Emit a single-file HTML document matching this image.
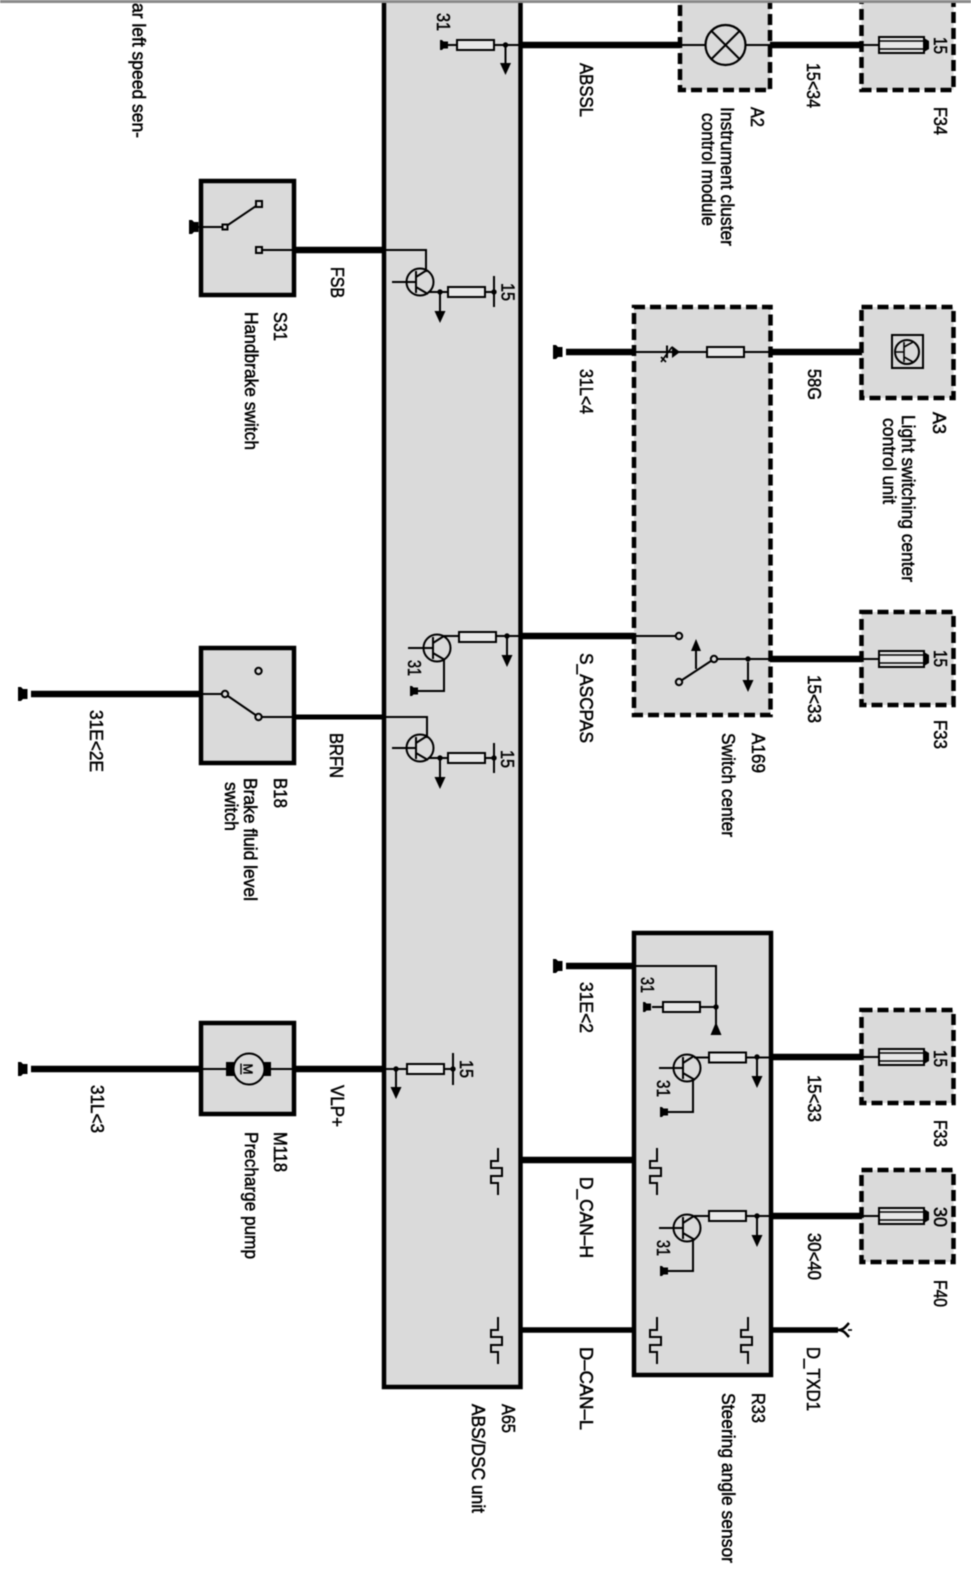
<!DOCTYPE html>
<html><head><meta charset="utf-8"><style>
html,body{margin:0;padding:0;background:#fff;width:971px;height:1573px;overflow:hidden}
svg{display:block;filter:blur(.5px)}
text{font-family:"Liberation Sans",sans-serif;font-size:18px;fill:#000;stroke:#000;stroke-width:.5px}
.box{fill:#dadada;stroke:#000;stroke-width:4.5}
.dash{fill:#dadada;stroke:#000;stroke-width:4.5;stroke-dasharray:11 5}
.w{stroke:#000;stroke-width:2;fill:none}
.t{stroke:#000;stroke-width:6.5;fill:none}
.r{fill:#e8e8e8;stroke:#000;stroke-width:2}
.c{fill:#dadada;stroke:#000;stroke-width:2}
</style></head><body>
<svg xmlns="http://www.w3.org/2000/svg" width="971" height="1573" viewBox="0 0 971 1573">
<defs>
<g id="arr"><path d="M0,0V20" stroke="#000" stroke-width="2"/><path d="M-5.500,18H5.500L0,30Z" fill="#000"/></g>
<g id="gnd"><path d="M0,-7H3L5,-5H9.500V5H5L3,7H0Z" fill="#000"/></g>
<g id="gs"><path d="M0,-5H2L3.500,-3.500H8V3.500H3.500L2,5H0Z" fill="#000"/></g>
<g id="tr"><circle r="13.5" fill="none" stroke="#000" stroke-width="2"/><path d="M-4,-11V11M-4,-5L7,-12M-4,5L8,12" stroke="#000" stroke-width="2" fill="none"/></g>
<path id="pulse" d="M0,0V13H-7V20H4V28H-7V35H0V47" fill="none" stroke="#000" stroke-width="2"/>
<g id="fuse"><path d="M-18,0H0M45,0H50" stroke="#000" stroke-width="2"/><rect x="0" y="-8" width="45" height="16" fill="#e8e8e8" stroke="#000" stroke-width="2"/><path d="M0,-4H45M0,4H45" stroke="#000" stroke-width="1.4"/><path d="M45,-7L50,-4V4L45,7Z" fill="#000"/></g>
<g id="res"><rect x="0" y="-5" width="37" height="10" class="r"/></g>
<circle id="dot" r="2.7" fill="#000"/>
</defs>

<!-- main boxes -->
<rect x="384" y="-10" width="136.5" height="1397" class="box"/>
<rect x="634" y="933" width="137" height="442" class="box"/>
<rect x="201" y="181" width="93" height="114" class="box"/>
<rect x="201" y="648" width="93" height="115" class="box"/>
<rect x="201" y="1023" width="93" height="91" class="box"/>
<rect x="680" y="-8" width="90" height="98" class="dash"/>
<rect x="861.500" y="-8" width="92" height="98" class="dash"/>
<rect x="634" y="307" width="136.500" height="408" class="dash"/>
<rect x="861.500" y="307" width="92" height="91" class="dash"/>
<rect x="861.500" y="612" width="92" height="93" class="dash"/>
<rect x="861.500" y="1010" width="92" height="93" class="dash"/>
<rect x="861.500" y="1170" width="92" height="92" class="dash"/>

<!-- thick wires -->
<path class="t" d="M520,45H680M770,45H862"/>
<path class="t" d="M294,250H384"/>
<path class="t" d="M566,352H634M770,352H862"/>
<path class="t" d="M520,636H634M770,659H862"/>
<path class="t" d="M31,694H201"/>
<path class="t" d="M294,717H384" style="stroke-width:5"/>
<path class="t" d="M566,966H634"/>
<path class="t" d="M771,1057H862M771,1216H862"/>
<path class="t" d="M31,1069H201M294,1069H384"/>
<path class="t" d="M521,1160H634"/>
<path class="t" d="M521,1330H634M771,1330H838" style="stroke-width:5.500"/>

<!-- top ABSSL -->
<use href="#gs" x="440" y="45"/>
<path class="w" d="M447,45H457M494,45H520"/>
<use href="#res" x="457" y="45"/>
<use href="#dot" x="505.500" y="45"/>
<use href="#arr" x="505.500" y="45"/>
<path class="w" d="M680,45H705M746,45H770"/>
<circle cx="725.500" cy="45" r="20" fill="#dadada" stroke="#000" stroke-width="2.200"/>
<path d="M711.500,31L739.500,59M739.500,31L711.500,59" stroke="#000" stroke-width="2"/>
<use href="#fuse" x="879" y="45"/>

<!-- S31 handbrake -->
<use href="#gnd" x="189" y="227"/>
<path class="w" d="M197,227H225L259,204M259,250H294"/>
<rect x="222.500" y="224.500" width="5" height="5" class="c"/>
<rect x="256" y="201" width="6" height="6" class="c"/>
<rect x="256" y="247" width="6" height="6" class="c"/>
<path class="w" d="M384,250H426V272"/>
<use href="#tr" x="420" y="282"/>
<path class="w" d="M392,282H416M428,292H484M494,276V307M484,292H494"/>
<use href="#res" x="448" y="292"/>
<use href="#dot" x="440" y="292"/>
<use href="#dot" x="494" y="292"/>
<use href="#arr" x="440" y="293"/>

<!-- A169 A3 wire -->
<use href="#gnd" x="553" y="352"/>
<path class="w" d="M634,352H708M744,352H770"/>
<use href="#res" x="707" y="352"/>
<path d="M672,346V358L680,352Z M666,345.500H668V358H666Z" fill="#000"/>
<path d="M661,362L672,347M661,357L666,362" stroke="#000" stroke-width="1.600" fill="none"/>
<rect x="892" y="335" width="31" height="33" fill="#dadada" stroke="#000" stroke-width="2"/>
<circle cx="907" cy="352" r="12" fill="none" stroke="#000" stroke-width="2"/>
<path d="M904,342V362M895,352H904M904,347L913,342M904,357L913,362" stroke="#000" stroke-width="1.600" fill="none"/>

<!-- S_ASCPAS -->
<use href="#tr" x="437" y="648"/>
<path class="w" d="M408,648H433M443,636H459M497,636H521M444,659V691H412"/>
<use href="#res" x="459" y="637"/>
<use href="#dot" x="507" y="636"/>
<use href="#arr" x="507" y="637"/>
<use href="#gs" x="410" y="691"/>
<path class="w" d="M634,636H676"/>
<circle cx="679" cy="636" r="3.200" class="c"/>
<path class="w" d="M679,682L714,659H771"/>
<circle cx="679" cy="682" r="3.200" class="c"/>
<circle cx="714" cy="659" r="3.200" class="c"/>
<use href="#dot" x="748" y="659"/>
<use href="#arr" x="748" y="662"/>
<path d="M696,669V648" stroke="#000" stroke-width="2"/>
<path d="M691,651H701L696,639Z" fill="#000"/>
<use href="#fuse" x="879" y="659"/>

<!-- B18 -->
<use href="#gnd" x="18" y="694"/>
<path class="w" d="M201,694H225L258.500,717H294"/>
<circle cx="225" cy="694" r="3.200" class="c"/>
<circle cx="258.500" cy="717" r="3.200" class="c"/>
<circle cx="258.500" cy="671" r="3.200" class="c"/>
<path class="w" d="M384,717H427V738"/>
<use href="#tr" x="420" y="748"/>
<path class="w" d="M392,748H416M428,758H484M484,758H494M494,743V773"/>
<use href="#res" x="448" y="758"/>
<use href="#dot" x="440" y="758"/>
<use href="#dot" x="494" y="758"/>
<use href="#arr" x="440" y="759"/>

<!-- R33 -->
<use href="#gnd" x="553" y="966"/>
<path class="w" d="M634,966H716V1026M652,1007H663M699,1007H716"/>
<use href="#res" x="663" y="1007"/>
<use href="#gs" x="643" y="1007"/>
<use href="#dot" x="716" y="1007"/>
<path d="M710.500,1035H721.500L716,1022Z" fill="#000"/>
<use href="#tr" x="687" y="1068"/>
<path class="w" d="M659,1068H683M694,1057.500H709M747,1057.500H771M693,1078V1112H665"/>
<use href="#res" x="709" y="1057.500"/>
<use href="#dot" x="757" y="1057"/>
<use href="#arr" x="757" y="1058"/>
<use href="#gs" x="660" y="1112"/>
<use href="#fuse" x="879" y="1057"/>
<use href="#tr" x="687" y="1228"/>
<path class="w" d="M659,1228H683M694,1216H709M747,1216H771M693,1238V1271H665"/>
<use href="#res" x="709" y="1216"/>
<use href="#dot" x="757" y="1216"/>
<use href="#arr" x="757" y="1217"/>
<use href="#gs" x="660" y="1271"/>
<use href="#fuse" x="879" y="1216"/>

<!-- D_TXD symbol -->
<path d="M838,1330C844,1330 846,1326 849,1323M838,1330C844,1330 846,1334 849,1337" stroke="#000" stroke-width="2.500" fill="none"/>
<path d="M848,1330H852" stroke="#000" stroke-width="1.600"/>

<!-- M118 -->
<use href="#gnd" x="18" y="1069"/>
<path class="w" d="M201,1069H226M270,1069H294"/>
<rect x="226" y="1062" width="8" height="14" fill="#000"/>
<rect x="263" y="1062" width="8" height="14" fill="#000"/>
<circle cx="249" cy="1069" r="15.500" class="c"/>
<text transform="translate(243.500,1063.500) rotate(90)" style="font-size:13px" textLength="11" lengthAdjust="spacingAndGlyphs">M</text>
<path d="M241,1063.500V1074.500" stroke="#000" stroke-width="1.400"/>
<path class="w" d="M384,1069H407M444,1069H453M453,1053V1085"/>
<use href="#res" x="407" y="1069"/>
<use href="#dot" x="396" y="1069"/>
<use href="#dot" x="453" y="1069"/>
<use href="#arr" x="396" y="1069"/>

<!-- pulses -->
<use href="#pulse" x="498" y="1148"/>
<use href="#pulse" x="498" y="1317"/>
<use href="#pulse" x="657" y="1148"/>
<use href="#pulse" x="657" y="1317"/>
<use href="#pulse" x="748" y="1317"/>

<!-- labels -->
<g>
<text transform="translate(132.500,3) rotate(90)" textLength="135" lengthAdjust="spacingAndGlyphs">ar left speed sen-</text>
<text transform="translate(437,13) rotate(90)" textLength="18" lengthAdjust="spacingAndGlyphs">31</text>
<text transform="translate(580,63) rotate(90)" textLength="54" lengthAdjust="spacingAndGlyphs">ABSSL</text>
<text transform="translate(751,107) rotate(90)" textLength="20" lengthAdjust="spacingAndGlyphs">A2</text>
<text transform="translate(721,107) rotate(90)" textLength="139" lengthAdjust="spacingAndGlyphs">Instrument cluster</text>
<text transform="translate(702,113) rotate(90)" textLength="113" lengthAdjust="spacingAndGlyphs">control module</text>
<text transform="translate(807,63) rotate(90)" textLength="45" lengthAdjust="spacingAndGlyphs">15&lt;34</text>
<text transform="translate(934,37) rotate(90)" textLength="17" lengthAdjust="spacingAndGlyphs">15</text>
<text transform="translate(934,107) rotate(90)" textLength="28" lengthAdjust="spacingAndGlyphs">F34</text>
<text transform="translate(274,312) rotate(90)" textLength="29" lengthAdjust="spacingAndGlyphs">S31</text>
<text transform="translate(245,312) rotate(90)" textLength="138" lengthAdjust="spacingAndGlyphs">Handbrake switch</text>
<text transform="translate(331,267) rotate(90)" textLength="31" lengthAdjust="spacingAndGlyphs">FSB</text>
<text transform="translate(501.500,283) rotate(90)" textLength="18" lengthAdjust="spacingAndGlyphs">15</text>
<text transform="translate(580,369) rotate(90)" textLength="45" lengthAdjust="spacingAndGlyphs">31L&lt;4</text>
<text transform="translate(808,369) rotate(90)" textLength="31" lengthAdjust="spacingAndGlyphs">58G</text>
<text transform="translate(933,412) rotate(90)" textLength="22" lengthAdjust="spacingAndGlyphs">A3</text>
<text transform="translate(902,415) rotate(90)" textLength="167" lengthAdjust="spacingAndGlyphs">Light switching center</text>
<text transform="translate(883,418) rotate(90)" textLength="86" lengthAdjust="spacingAndGlyphs">control unit</text>
<text transform="translate(408,660) rotate(90)" textLength="16" lengthAdjust="spacingAndGlyphs">31</text>
<text transform="translate(501,750) rotate(90)" textLength="18" lengthAdjust="spacingAndGlyphs">15</text>
<text transform="translate(580,653) rotate(90)" textLength="90" lengthAdjust="spacingAndGlyphs">S_ASCPAS</text>
<text transform="translate(752,733) rotate(90)" textLength="40" lengthAdjust="spacingAndGlyphs">A169</text>
<text transform="translate(722,733) rotate(90)" textLength="104" lengthAdjust="spacingAndGlyphs">Switch center</text>
<text transform="translate(330,733) rotate(90)" textLength="45" lengthAdjust="spacingAndGlyphs">BRFN</text>
<text transform="translate(274,778) rotate(90)" textLength="30" lengthAdjust="spacingAndGlyphs">B18</text>
<text transform="translate(244,778) rotate(90)" textLength="123" lengthAdjust="spacingAndGlyphs">Brake fluid level</text>
<text transform="translate(225,782) rotate(90)" textLength="49" lengthAdjust="spacingAndGlyphs">switch</text>
<text transform="translate(90,710) rotate(90)" textLength="62" lengthAdjust="spacingAndGlyphs">31E&lt;2E</text>
<text transform="translate(808,675) rotate(90)" textLength="48" lengthAdjust="spacingAndGlyphs">15&lt;33</text>
<text transform="translate(934,650) rotate(90)" textLength="17" lengthAdjust="spacingAndGlyphs">15</text>
<text transform="translate(934,720) rotate(90)" textLength="29" lengthAdjust="spacingAndGlyphs">F33</text>
<text transform="translate(580,982) rotate(90)" textLength="51" lengthAdjust="spacingAndGlyphs">31E&lt;2</text>
<text transform="translate(641,977) rotate(90)" textLength="16" lengthAdjust="spacingAndGlyphs">31</text>
<text transform="translate(657,1080) rotate(90)" textLength="17" lengthAdjust="spacingAndGlyphs">31</text>
<text transform="translate(657,1240) rotate(90)" textLength="16" lengthAdjust="spacingAndGlyphs">31</text>
<text transform="translate(934,1050) rotate(90)" textLength="17" lengthAdjust="spacingAndGlyphs">15</text>
<text transform="translate(808,1075) rotate(90)" textLength="47" lengthAdjust="spacingAndGlyphs">15&lt;33</text>
<text transform="translate(934,1120) rotate(90)" textLength="27" lengthAdjust="spacingAndGlyphs">F33</text>
<text transform="translate(934,1207) rotate(90)" textLength="20" lengthAdjust="spacingAndGlyphs">30</text>
<text transform="translate(808,1233) rotate(90)" textLength="47" lengthAdjust="spacingAndGlyphs">30&lt;40</text>
<text transform="translate(934,1280) rotate(90)" textLength="27" lengthAdjust="spacingAndGlyphs">F40</text>
<text transform="translate(580,1177) rotate(90)" textLength="81" lengthAdjust="spacingAndGlyphs">D_CAN–H</text>
<text transform="translate(580,1347) rotate(90)" textLength="83" lengthAdjust="spacingAndGlyphs">D–CAN–L</text>
<text transform="translate(807,1347) rotate(90)" textLength="64" lengthAdjust="spacingAndGlyphs">D_TXD1</text>
<text transform="translate(752,1393) rotate(90)" textLength="30" lengthAdjust="spacingAndGlyphs">R33</text>
<text transform="translate(722,1393) rotate(90)" textLength="170" lengthAdjust="spacingAndGlyphs">Steering angle sensor</text>
<text transform="translate(502,1404) rotate(90)" textLength="29" lengthAdjust="spacingAndGlyphs">A65</text>
<text transform="translate(472,1404) rotate(90)" textLength="109" lengthAdjust="spacingAndGlyphs">ABS/DSC unit</text>
<text transform="translate(91,1085) rotate(90)" textLength="48" lengthAdjust="spacingAndGlyphs">31L&lt;3</text>
<text transform="translate(331,1085) rotate(90)" textLength="42" lengthAdjust="spacingAndGlyphs">VLP+</text>
<text transform="translate(274,1132) rotate(90)" textLength="40" lengthAdjust="spacingAndGlyphs">M118</text>
<text transform="translate(245,1132) rotate(90)" textLength="127" lengthAdjust="spacingAndGlyphs">Precharge pump</text>
<text transform="translate(460,1060) rotate(90)" textLength="18" lengthAdjust="spacingAndGlyphs">15</text>
</g>

<!-- top edge -->
<rect x="0" y="-1" width="971" height="4" fill="#8a8a8a"/>
</svg>
</body></html>
